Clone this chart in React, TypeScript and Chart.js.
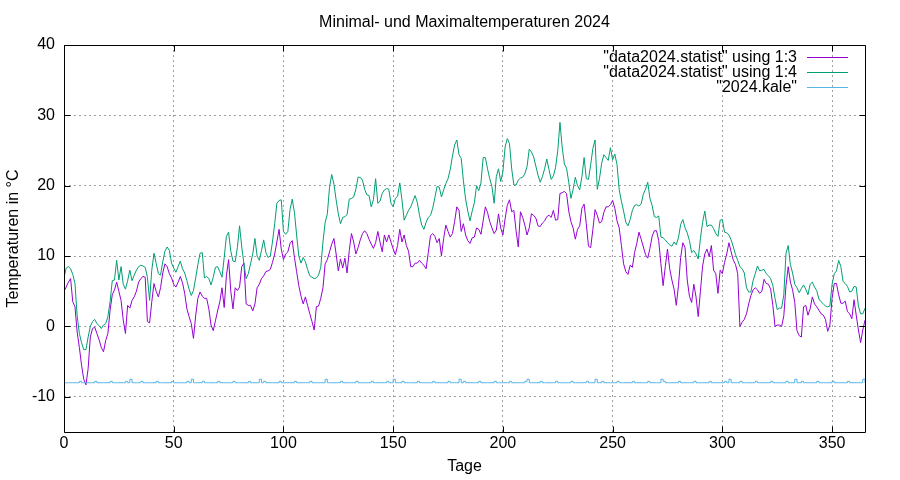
import { useEffect, useRef } from "react";
import { Chart, registerables } from "chart.js";

Chart.register(...registerables);

const chartTitle = "Minimal- und Maximaltemperaturen 2024";
const xTitle = "Tage";
const yTitle = "Temperaturen in °C";
const xTicks = [0, 50, 100, 150, 200, 250, 300, 350];
const yTicks = [-10, 0, 10, 20, 30, 40];
const labelMin = '"data2024.statist" using 1:3';
const labelMax = '"data2024.statist" using 1:4';
const labelKale = '"2024.kale"';
const colorMin = "#9400d3";
const colorMax = "#009e73";
const colorKale = "#56b4e9";

const tMax = [
  7.0, 8.3, 8.5, 8.2, 7.4, 6.1, 1.5, -1.0, -2.3, -3.3,
  -3.3, -1.5, 0.0, 0.7, 1.0, 0.4, 0.1, -0.3, 0.2, 0.4,
  1.4, 3.5, 6.5, 6.6, 9.4, 6.6, 8.5, 6.0, 5.3, 6.5,
  8.0, 6.5, 7.3, 8.0, 8.5, 8.7, 8.6, 8.4, 7.0, 3.7,
  8.0, 10.4, 9.0, 7.5, 7.3, 9.2, 10.7, 11.3, 10.8, 9.0,
  8.3, 7.7, 8.5, 9.3, 8.2, 7.6, 6.5, 5.3, 4.4, 5.1,
  6.9, 8.8, 10.4, 10.5, 6.9, 7.1, 6.8, 5.9, 7.0, 8.4,
  8.5, 7.8, 7.0, 9.8, 12.8, 13.4, 10.7, 9.3, 9.2, 11.2,
  14.3, 11.3, 8.9, 6.8, 7.5, 8.9, 10.3, 12.5, 10.0, 9.4,
  10.8, 12.3, 10.5, 9.8, 10.0, 12.0, 14.6, 17.5, 17.9, 18.0,
  13.5, 13.1, 13.5, 16.6, 18.1, 16.2, 13.0, 10.0, 9.0, 9.8,
  9.2, 8.1, 7.2, 7.0, 6.8, 6.9, 7.3, 8.4, 12.0, 14.8,
  16.0, 19.8, 21.6, 20.2, 18.0, 16.0, 14.6, 15.5, 15.6, 15.9,
  18.1, 18.2, 18.4, 19.5, 21.2, 21.2, 20.8, 19.5, 18.7, 18.6,
  17.0, 18.0, 21.0, 17.5, 17.8, 18.9, 19.4, 19.6, 19.5, 17.5,
  17.0, 18.2, 18.5, 20.4, 18.0, 15.1, 15.8, 16.5, 17.0, 17.8,
  18.6, 17.6, 15.8, 14.4, 13.8, 14.8, 15.5, 15.8, 16.8, 18.3,
  19.9, 19.8, 18.4, 19.4, 20.3, 21.0, 22.3, 24.2, 25.8, 26.5,
  24.4, 23.9, 20.7, 18.1, 16.4, 15.0, 16.4, 17.6, 20.0, 19.3,
  20.4, 24.0, 24.0, 22.4, 21.0, 19.9, 17.5, 21.3, 22.4, 20.6,
  22.0, 25.5, 26.7, 26.0, 22.4, 20.1, 20.1, 20.8, 21.1, 21.2,
  21.7, 22.7, 25.2, 24.8, 24.1, 22.8, 21.5, 20.5, 21.3, 22.4,
  23.8, 22.3, 20.9, 21.4, 22.6, 25.0, 29.0, 25.5, 23.1, 22.5,
  20.5, 18.2, 19.5, 21.2, 20.0, 19.4, 21.3, 24.0, 21.0, 20.9,
  23.0, 25.3, 26.5, 19.5, 21.0, 23.2, 24.4, 24.0, 23.6, 25.4,
  23.7, 24.5, 23.0, 19.4, 17.8, 16.4, 14.8, 14.3, 15.2, 16.5,
  17.2, 17.3, 17.1, 17.4, 18.8, 19.5, 20.5, 18.2, 17.2, 15.6,
  15.5, 15.7, 12.7, 12.6, 12.3, 11.9, 11.6, 11.4, 12.0, 11.6,
  12.6, 14.5, 15.2, 14.0, 13.3, 12.2, 10.5, 10.8, 10.3, 9.6,
  12.5, 14.8, 16.4, 14.2, 14.4, 14.4, 13.9, 13.2, 12.8, 15.1,
  15.2, 13.4, 13.3, 13.0, 12.3, 11.3, 10.2, 9.4, 8.5, 8.2,
  7.6, 5.5, 4.9, 4.9, 6.5, 7.5, 8.6, 7.9, 8.0, 8.1,
  7.5, 7.2, 6.8, 5.8, 4.0, 2.4, 2.6, 2.6, 4.5, 10.4,
  11.5, 8.8, 7.6, 6.0, 5.5, 4.8, 5.4, 5.9, 5.3, 4.5,
  6.0, 6.3, 5.6, 5.1, 3.9, 3.5, 3.2, 2.9, 2.8, 2.9,
  6.0, 7.5, 7.9, 9.4, 8.5, 6.4, 6.1, 5.7, 4.9, 5.0,
  5.7, 5.6, 2.9, 1.8, 1.8, 2.6,
];

const tMin = [
  5.0, 5.6, 6.3, 6.8, 3.5, 2.8, -0.8, -3.0, -5.5, -7.5,
  -8.3, -6.0, -1.5, -0.3, -0.1, -1.0, -1.9, -3.0, -3.6, -2.0,
  -1.0, 2.3, 4.5, 5.2, 6.3, 5.0, 3.7, 0.9, -1.0, 3.0,
  2.6, 3.7, 4.2, 5.0, 6.3, 6.8, 7.1, 7.0, 0.7, 0.5,
  3.5, 6.1, 5.0, 4.2, 5.5, 7.6, 8.9, 8.5, 7.5, 6.9,
  6.0, 5.6, 6.3, 7.1, 6.2, 4.7, 2.5, 1.4, 0.4, -1.7,
  1.5, 4.0, 4.9, 4.3, 4.0, 4.0, 2.5, 0.2, -0.6, 0.8,
  2.2, 3.5, 5.5, 2.7, 7.2, 9.5, 5.0, 2.5, 5.5, 5.1,
  5.6, 8.5, 9.0, 3.2, 3.0, 3.0, 2.2, 3.2, 5.5, 6.0,
  6.8, 7.2, 7.8, 7.9, 8.1, 9.1, 10.3, 12.0, 13.8, 11.0,
  9.5, 10.3, 10.6, 11.8, 12.2, 9.8, 7.8, 5.8, 4.3, 3.2,
  4.2, 3.0, 1.8, 0.7, -0.5, 2.8, 2.9, 4.0, 5.5, 8.9,
  9.5, 10.6, 11.7, 12.5, 10.3, 7.9, 9.6, 8.3, 9.7, 7.6,
  10.8, 13.2, 12.0, 10.3, 11.2, 12.3, 13.2, 13.6, 13.2, 12.4,
  11.7, 11.1, 11.9, 13.5, 12.0, 10.6, 13.0, 12.0, 13.0, 12.0,
  11.0, 10.2, 11.5, 13.8, 12.0, 13.0, 11.5, 10.7, 8.5, 8.5,
  9.0, 9.0, 9.4, 9.0, 8.7, 8.2, 10.5, 12.9, 13.2, 12.8,
  11.9, 12.5, 10.0, 12.5, 14.4, 13.5, 12.7, 13.2, 14.9, 17.0,
  16.5, 13.5, 14.6, 13.0, 12.2, 11.8, 12.6, 12.7, 14.0, 13.8,
  13.1, 15.0, 17.0, 16.2, 14.9, 14.0, 13.2, 13.7, 16.0, 14.0,
  13.0, 15.3, 17.2, 18.0, 16.3, 16.5, 13.6, 11.3, 16.3, 15.5,
  14.4, 13.0, 14.0, 16.0, 15.8, 15.4, 14.3, 14.2, 14.7, 15.0,
  15.6, 15.8, 15.5, 16.5, 15.1, 15.2, 18.9, 19.0, 19.2, 18.9,
  16.4, 14.9, 14.0, 12.4, 13.8, 14.3, 16.8, 17.4, 14.6, 11.4,
  11.2, 13.8, 16.6, 15.8, 14.7, 14.9, 16.2, 17.0, 17.0, 17.3,
  17.9, 16.8, 15.0, 14.0, 11.5, 8.9, 7.8, 7.4, 8.7, 8.4,
  10.5, 11.8, 13.4, 12.4, 11.3, 10.2, 9.7, 11.1, 12.8, 13.6,
  13.6, 12.2, 8.9, 5.8, 8.5, 11.0, 8.2, 6.6, 5.3, 3.0,
  5.8, 9.8, 11.9, 11.2, 6.6, 4.3, 3.4, 6.0, 4.2, 1.4,
  5.0, 8.6, 10.3, 11.0, 9.9, 11.5, 8.0, 7.5, 4.7, 8.0,
  7.5, 9.1, 10.3, 11.9, 10.6, 9.4, 8.8, 7.5, 0.0, 0.6,
  1.0, 1.8, 3.2, 4.4, 5.2, 5.5, 5.2, 4.7, 5.0, 6.7,
  6.1, 6.0, 5.3, 3.0, 0.0, 0.2, 0.2, 0.0, 1.5, 5.8,
  8.5, 6.3, 5.2, 3.4, -0.6, -1.3, -1.5, 2.8, 3.0, 1.6,
  2.5, 4.2, 3.2, 2.8, 2.3, 1.8, 1.6, 1.0, -0.7, 0.2,
  4.0, 6.1, 6.1, 4.5, 3.3, 3.3, 3.6, 2.1, 1.8, 1.1,
  3.8, 1.6, -0.5, -2.3, -0.5, 0.9,
];

// calendar file: base level, weekly marks and month-end marks
const kaleBase = -8;
const kaleWeekValue = -7.8;
const kaleMonthValue = -7.5;
const kaleWeekDays = [
  7, 14, 21, 28, 35, 42, 49, 56, 63, 70, 77, 84, 91, 98, 105, 112, 119, 126,
  133, 140, 147, 154, 161, 168, 175, 182, 189, 196, 203, 210, 217, 224, 231,
  238, 245, 252, 259, 266, 273, 280, 287, 294, 301, 308, 315, 322, 329, 336,
  343, 350, 357, 364,
];
const kaleMonthDays = [30, 58, 89, 119, 150, 180, 211, 242, 272, 303, 333, 364];

const days = tMax.map((_, i) => i);
const kale = days.map((d) =>
  kaleMonthDays.includes(d) ? kaleMonthValue : kaleWeekDays.includes(d) ? kaleWeekValue : kaleBase
);

const FONT = "'Liberation Sans', Arial, sans-serif";

const framePlugin = {
  id: "gnuframe",
  afterDraw(chart: any) {
    const { ctx, chartArea } = chart;
    const { left, right, top, bottom } = chartArea;
    const xs = chart.scales.x;
    const ys = chart.scales.y;
    const L = Math.round(left) + 0.5;
    const R = Math.round(right) + 0.5;
    const T = Math.round(top) + 0.5;
    const B = Math.round(bottom) + 0.5;
    ctx.save();
    ctx.strokeStyle = "#000";
    ctx.lineWidth = 1;
    ctx.setLineDash([]);
    ctx.beginPath();
    ctx.rect(L, T, R - L, B - T);
    for (const v of yTicks) {
      const py = Math.round(ys.getPixelForValue(v)) + 0.5;
      ctx.moveTo(L, py);
      ctx.lineTo(L + 6, py);
      ctx.moveTo(R, py);
      ctx.lineTo(R - 6, py);
    }
    for (const v of xTicks) {
      const px = Math.round(xs.getPixelForValue(v)) + 0.5;
      ctx.moveTo(px, B);
      ctx.lineTo(px, B - 6);
      ctx.moveTo(px, T);
      ctx.lineTo(px, T + 6);
    }
    ctx.stroke();

    // title
    ctx.fillStyle = "#000";
    ctx.font = `16px ${FONT}`;
    ctx.textAlign = "center";
    ctx.textBaseline = "alphabetic";
    ctx.fillText(chartTitle, (left + right) / 2, 27);

    // key
    const rows = chart.data.datasets;
    [0, 1, 2].forEach((idx, i) => {
      const ds = rows[idx];
      const ly = Math.round(top + 12 + i * 15) + 0.5;
      ctx.textAlign = "right";
      ctx.fillStyle = "#000";
      ctx.fillText(ds.label, right - 68, ly + 4);
      ctx.strokeStyle = ds.borderColor;
      ctx.beginPath();
      ctx.moveTo(right - 58, ly);
      ctx.lineTo(right - 17, ly);
      ctx.stroke();
    });
    ctx.restore();
  },
};

export default function App() {
  const ref = useRef<HTMLCanvasElement | null>(null);

  useEffect(() => {
    if (!ref.current) return;
    Chart.defaults.font.family = FONT;
    Chart.defaults.font.size = 16;
    Chart.defaults.color = "#000";
    const chart = new Chart(ref.current, {
      type: "line",
      data: {
        datasets: [
          {
            label: labelMin,
            data: days.map((d, i) => ({ x: d, y: tMin[i] })),
            borderColor: colorMin,
            borderWidth: 1,
            pointRadius: 0,
            tension: 0,
            order: 2,
          },
          {
            label: labelMax,
            data: days.map((d, i) => ({ x: d, y: tMax[i] })),
            borderColor: colorMax,
            borderWidth: 1,
            pointRadius: 0,
            tension: 0,
            order: 1,
          },
          {
            label: labelKale,
            data: days.map((d, i) => ({ x: d, y: kale[i] })),
            borderColor: colorKale,
            borderWidth: 1,
            pointRadius: 0,
            stepped: true,
            order: 0,
          },
        ],
      },
      options: {
        animation: false,
        responsive: false,
        devicePixelRatio: 1,
        layout: { padding: { top: 45, right: 35, left: 0, bottom: 0 } },
        plugins: {
          legend: { display: false },
          title: { display: false },
          tooltip: { enabled: false },
        },
        scales: {
          x: {
            type: "linear",
            min: 0,
            max: 365,
            afterBuildTicks: (s: any) => {
              s.ticks = xTicks.map((v) => ({ value: v }));
            },
            afterFit: (s: any) => {
              s.height = 48;
            },
            grid: { color: "#a0a0a0", lineWidth: 1, drawTicks: false },
            border: { display: false, dash: [2, 3] },
            ticks: { padding: 2, maxRotation: 0, autoSkip: false, font: { size: 16 } },
            title: { display: true, text: xTitle, font: { size: 16 }, padding: { top: 0, bottom: 4 } },
          },
          y: {
            type: "linear",
            min: -15,
            max: 40,
            afterBuildTicks: (s: any) => {
              s.ticks = yTicks.map((v) => ({ value: v }));
            },
            afterFit: (s: any) => {
              s.width = 64;
            },
            grid: { color: "#a0a0a0", lineWidth: 1, drawTicks: false },
            border: { display: false, dash: [2, 3] },
            ticks: { padding: 9, autoSkip: false, font: { size: 16 } },
            title: { display: true, text: yTitle, font: { size: 16 }, padding: { top: 4, bottom: 0 } },
          },
        },
      },
      plugins: [framePlugin],
    });
    return () => chart.destroy();
  }, []);

  return (
    <div style={{ position: "absolute", left: 0, top: 0, width: 900, height: 480, background: "#fff" }}>
      <canvas ref={ref} width={900} height={480} style={{ display: "block" }} />
    </div>
  );
}
